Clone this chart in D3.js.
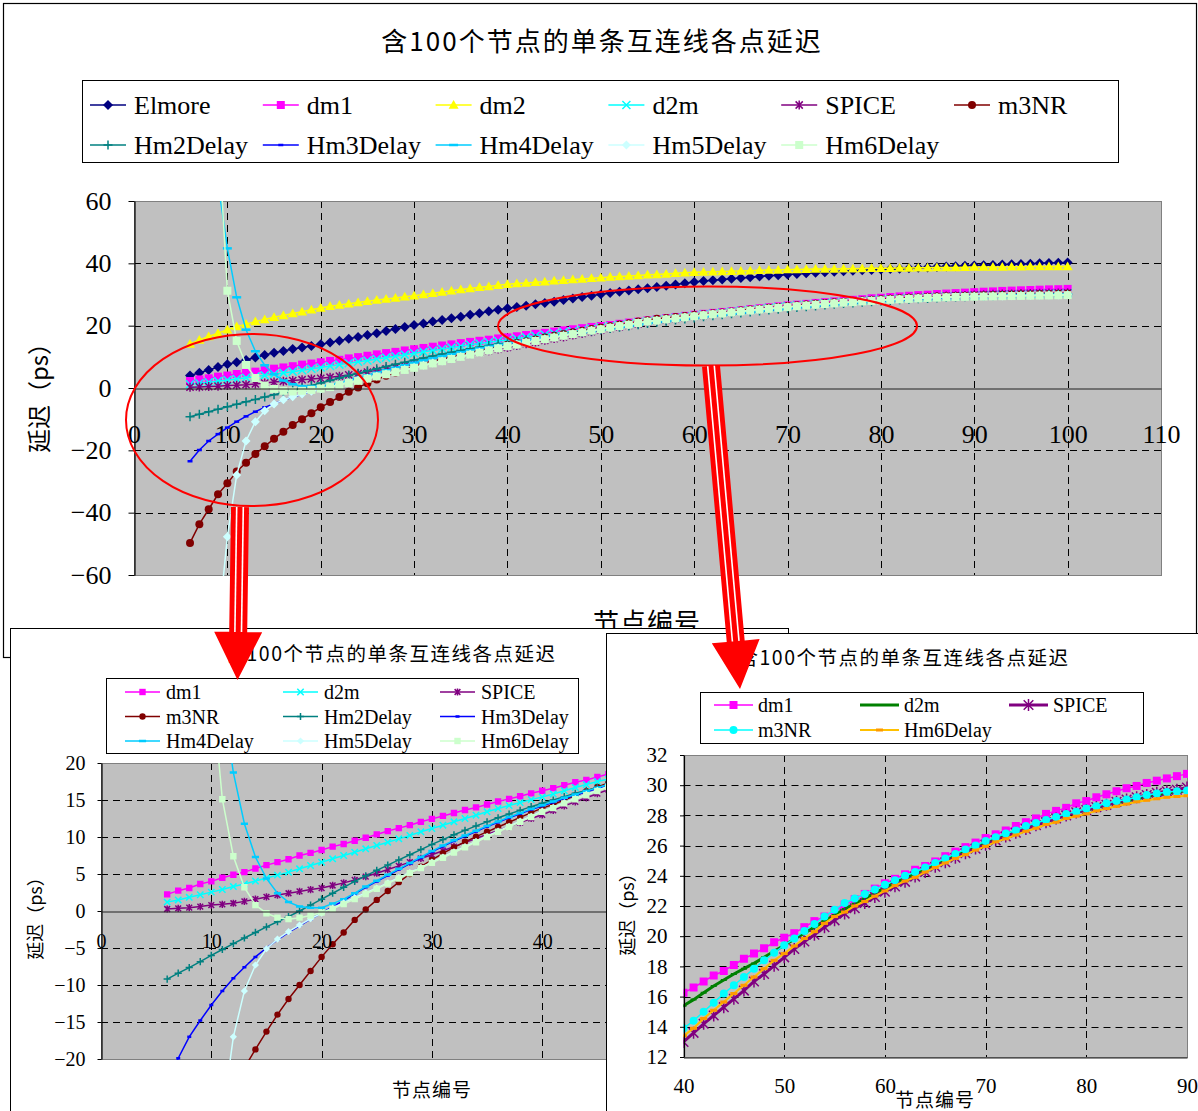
<!DOCTYPE html>
<html>
<head>
<meta charset="utf-8">
<script src="https://cdn.jsdelivr.net/npm/d3@7"></script>
<style>body{margin:0;background:#fff}</style>
</head>
<body>
<script>
// node numbers 6..100, one value per node for every series (ps)
var nodes = d3.range(6, 101);

var elmore = [
  4.0, 4.9, 5.8, 6.7, 7.6, 8.3, 9.0, 9.8, 10.6, 11.3,
  11.9, 12.5, 13.0, 13.5, 14.0, 14.6, 15.2, 15.8, 16.4, 17.0,
  17.6, 18.3, 18.9, 19.6, 20.2, 20.7, 21.3, 21.8, 22.4, 22.9,
  23.5, 24.0, 24.6, 25.1, 25.6, 26.0, 26.4, 26.9, 27.3, 27.7,
  28.2, 28.7, 29.2, 29.6, 30.1, 30.5, 30.9, 31.3, 31.7, 32.0,
  32.4, 32.8, 33.2, 33.6, 34.0, 34.3, 34.55, 34.8, 35.05, 35.3,
  35.55, 35.8, 36.0, 36.2, 36.4, 36.6, 36.8, 36.95, 37.1, 37.3,
  37.45, 37.6, 37.75, 37.9, 38.0, 38.15, 38.3, 38.45, 38.6, 38.7,
  38.8, 38.95, 39.05, 39.2, 39.3, 39.4, 39.5, 39.6, 39.7, 39.8,
  39.9, 40.0, 40.1, 40.2, 40.3
];
var dm1 = [
  2.25, 2.75, 3.1, 3.65, 4.0, 4.5, 4.9, 5.25, 5.75, 6.2,
  6.6, 7.0, 7.5, 7.85, 8.25, 8.7, 9.05, 9.5, 9.9, 10.35,
  10.8, 11.2, 11.6, 12.05, 12.45, 12.85, 13.25, 13.65, 14.0, 14.4,
  14.8, 15.15, 15.5, 15.9, 16.25, 16.6, 17.0, 17.4, 17.7, 18.1,
  18.5, 18.85, 19.2, 19.6, 19.9, 20.2, 20.6, 21.0, 21.3, 21.7,
  22.1, 22.45, 22.8, 23.15, 23.5, 23.8, 24.1, 24.4, 24.65, 24.95,
  25.3, 25.6, 25.9, 26.2, 26.5, 26.75, 27.0, 27.3, 27.55, 27.8,
  28.1, 28.3, 28.5, 28.8, 28.95, 29.2, 29.4, 29.6, 29.8, 29.95,
  30.15, 30.3, 30.45, 30.6, 30.75, 30.9, 31.0, 31.15, 31.25, 31.35,
  31.45, 31.55, 31.65, 31.7, 31.8
];
var dm2 = [
  14.1, 15.4, 16.5, 17.6, 18.7, 19.7, 20.5, 21.3, 22.0, 22.7,
  23.3, 23.9, 24.5, 25.1, 25.7, 26.2, 26.6, 27.0, 27.4, 27.8,
  28.2, 28.55, 28.9, 29.25, 29.6, 30.0, 30.4, 30.8, 31.2, 31.6,
  31.9, 32.3, 32.6, 33.0, 33.3, 33.5, 33.7, 33.9, 34.1, 34.4,
  34.6, 34.8, 35.0, 35.2, 35.4, 35.6, 35.8, 35.95, 36.1, 36.3,
  36.45, 36.6, 36.8, 36.95, 37.1, 37.2, 37.3, 37.4, 37.5, 37.55,
  37.65, 37.75, 37.85, 37.9, 38.0, 38.05, 38.1, 38.15, 38.2, 38.2,
  38.25, 38.3, 38.35, 38.4, 38.4, 38.45, 38.5, 38.5, 38.55, 38.6,
  38.65, 38.7, 38.7, 38.75, 38.8, 38.8, 38.85, 38.85, 38.9, 38.9,
  38.95, 38.95, 39.0, 39.0, 39.0
];
var d2m = [
  1.2, 1.5, 1.85, 2.2, 2.55, 2.9, 3.3, 3.65, 4.05, 4.45,
  4.85, 5.25, 5.7, 6.15, 6.6, 7.05, 7.5, 7.95, 8.4, 8.85,
  9.3, 9.75, 10.2, 10.7, 11.15, 11.6, 12.05, 12.5, 12.95, 13.4,
  13.85, 14.25, 14.65, 15.05, 15.4, 15.8, 16.25, 16.7, 17.1, 17.5,
  17.85, 18.2, 18.6, 19.0, 19.4, 19.8, 20.2, 20.6, 21.0, 21.4,
  21.8, 22.15, 22.5, 22.85, 23.2, 23.55, 23.85, 24.15, 24.45, 24.75,
  25.05, 25.35, 25.65, 25.95, 26.2, 26.45, 26.7, 26.95, 27.2, 27.4,
  27.6, 27.8, 28.0, 28.2, 28.35, 28.5, 28.7, 28.85, 28.95, 29.1,
  29.25, 29.35, 29.45, 29.55, 29.65, 29.75, 29.85, 29.95, 30.0, 30.1,
  30.15, 30.2, 30.3, 30.35, 30.4
];
var spice = [
  0.27, 0.36, 0.45, 0.6, 0.8, 0.9, 1.05, 1.3, 1.6, 1.9,
  2.15, 2.4, 2.65, 2.9, 3.1, 3.45, 3.8, 4.2, 4.65, 5.1,
  5.6, 6.1, 6.6, 7.1, 7.6, 8.15, 8.7, 9.25, 9.8, 10.35,
  10.9, 11.4, 11.95, 12.5, 13.0, 13.6, 14.2, 14.75, 15.3, 15.85,
  16.4, 17.0, 17.5, 18.05, 18.6, 19.15, 19.65, 20.1, 20.6, 21.05,
  21.5, 21.85, 22.2, 22.6, 22.95, 23.3, 23.6, 23.95, 24.25, 24.6,
  24.9, 25.2, 25.5, 25.8, 26.05, 26.35, 26.6, 26.85, 27.1, 27.35,
  27.55, 27.8, 28.0, 28.2, 28.35, 28.55, 28.7, 28.9, 29.05, 29.2,
  29.35, 29.5, 29.6, 29.7, 29.85, 29.95, 30.05, 30.15, 30.2, 30.3,
  30.35, 30.4, 30.45, 30.5, 30.55
];
var m3nr = [
  -49.7, -43.7, -38.9, -34.1, -30.6, -26.8, -24.0, -21.2, -18.7, -16.3,
  -14.0, -11.9, -10.0, -8.1, -6.2, -4.5, -2.9, -1.2, 0.2, 1.5,
  2.7, 3.9, 5.0, 6.0, 6.9, 7.8, 8.6, 9.35, 10.05, 10.7,
  11.35, 12.0, 12.65, 13.3, 13.9, 14.4, 15.0, 15.6, 16.2, 16.75,
  17.3, 17.85, 18.4, 18.9, 19.4, 19.85, 20.35, 20.8, 21.3, 21.75,
  22.2, 22.5, 22.8, 23.1, 23.4, 23.7, 24.0, 24.25, 24.55, 24.85,
  25.15, 25.45, 25.75, 26.0, 26.3, 26.55, 26.8, 27.0, 27.3, 27.5,
  27.7, 27.9, 28.1, 28.25, 28.45, 28.6, 28.8, 28.95, 29.05, 29.2,
  29.35, 29.45, 29.55, 29.6, 29.65, 29.75, 29.85, 29.9, 30.0, 30.05,
  30.1, 30.15, 30.2, 30.25, 30.3
];
var hm2 = [
  -9.2, -8.4, -7.65, -6.85, -6.0, -5.2, -4.4, -3.65, -2.9, -2.15,
  -1.45, -0.75, 0.0, 0.8, 1.6, 2.4, 3.2, 4.0, 4.75, 5.5,
  6.2, 6.9, 7.6, 8.3, 9.0, 9.65, 10.3, 10.9, 11.5, 12.05,
  12.6, 13.1, 13.6, 14.1, 14.55, 15.0, 15.45, 15.9, 16.3, 16.7,
  17.1, 17.5, 17.9, 18.3, 18.7, 19.1, 19.5, 19.9, 20.3, 20.7,
  21.1, 21.45, 21.8, 22.15, 22.5, 22.85, 23.2, 23.5, 23.8, 24.1,
  24.4, 24.7, 25.0, 25.3, 25.6, 25.85, 26.1, 26.35, 26.6, 26.85,
  27.1, 27.3, 27.5, 27.7, 27.9, 28.1, 28.3, 28.45, 28.6, 28.75,
  28.9, 29.05, 29.2, 29.3, 29.4, 29.5, 29.6, 29.7, 29.8, 29.85,
  29.9, 29.95, 30.0, 30.05, 30.1
];
var hm3 = [
  -23.5, -19.9, -17.0, -14.8, -12.7, -10.8, -9.1, -7.6, -6.2, -5.0,
  -3.9, -2.9, -2.0, -1.1, -0.3, 0.6, 1.4, 2.3, 3.2, 4.0,
  4.8, 5.6, 6.4, 7.2, 8.0, 8.75, 9.45, 10.1, 10.75, 11.4,
  12.0, 12.6, 13.15, 13.7, 14.2, 14.7, 15.2, 15.65, 16.1, 16.55,
  17.0, 17.4, 17.8, 18.2, 18.6, 19.0, 19.4, 19.8, 20.2, 20.6,
  21.0, 21.35, 21.7, 22.05, 22.4, 22.75, 23.1, 23.4, 23.7, 24.0,
  24.3, 24.6, 24.9, 25.2, 25.5, 25.75, 26.0, 26.25, 26.5, 26.75,
  27.0, 27.2, 27.4, 27.6, 27.8, 28.0, 28.2, 28.35, 28.5, 28.65,
  28.8, 28.95, 29.1, 29.2, 29.3, 29.4, 29.5, 29.6, 29.7, 29.75,
  29.8, 29.85, 29.9, 29.95, 30.0
];
var hm4 = [
  400, 205, 112, 66, 44.8, 29.1, 18.7, 11.8, 7.3, 4.4,
  2.4, 1.2, 0.6, 0.45, 0.45, 1.0, 1.6, 2.4, 3.3, 4.1,
  4.9, 5.7, 6.5, 7.3, 8.1, 8.85, 9.55, 10.2, 10.85, 11.5,
  12.1, 12.7, 13.25, 13.8, 14.3, 14.8, 15.3, 15.75, 16.2, 16.65,
  17.1, 17.5, 17.9, 18.3, 18.7, 19.1, 19.5, 19.9, 20.3, 20.7,
  21.1, 21.45, 21.8, 22.15, 22.5, 22.85, 23.2, 23.5, 23.8, 24.1,
  24.4, 24.7, 25.0, 25.3, 25.6, 25.85, 26.1, 26.35, 26.6, 26.85,
  27.1, 27.3, 27.5, 27.7, 27.9, 28.1, 28.3, 28.45, 28.6, 28.75,
  28.9, 29.05, 29.2, 29.3, 29.4, 29.5, 29.6, 29.7, 29.8, 29.85,
  29.9, 29.95, 30.0, 30.05, 30.1
];
var hm5 = [
  -450, -230, -130, -78, -47.7, -27.9, -17.0, -10.8, -7.3, -5.1,
  -3.8, -2.8, -1.9, -1.05, -0.3, 0.4, 1.1, 1.8, 2.45, 3.1,
  3.8, 4.5, 5.2, 5.9, 6.6, 7.3, 8.0, 8.7, 9.4, 10.1,
  10.8, 11.45, 12.15, 12.8, 13.5, 14.0, 14.65, 15.2, 15.75, 16.3,
  16.85, 17.4, 17.95, 18.5, 18.95, 19.45, 19.95, 20.4, 20.95, 21.4,
  21.7, 22.1, 22.4, 22.75, 23.1, 23.45, 23.75, 24.0, 24.35, 24.65,
  24.95, 25.25, 25.5, 25.8, 26.05, 26.35, 26.55, 26.8, 27.05, 27.25,
  27.5, 27.65, 27.9, 28.05, 28.2, 28.4, 28.55, 28.7, 28.85, 29.0,
  29.1, 29.2, 29.3, 29.35, 29.4, 29.45, 29.5, 29.55, 29.6, 29.65,
  29.7, 29.75, 29.8, 29.85, 29.9
];
var hm6 = [
  620, 330, 170, 84, 31.2, 15.1, 7.4, 3.2, 0.8, -0.3,
  -0.9, -1.1, -0.9, -0.6, -0.2, 0.3, 0.95, 1.6, 2.3, 3.0,
  3.7, 4.4, 5.1, 5.8, 6.5, 7.2, 7.9, 8.6, 9.3, 10.0,
  10.7, 11.35, 12.05, 12.7, 13.4, 13.9, 14.55, 15.1, 15.65, 16.2,
  16.75, 17.3, 17.85, 18.4, 18.85, 19.35, 19.85, 20.3, 20.85, 21.3,
  21.6, 22.0, 22.3, 22.65, 23.0, 23.35, 23.65, 23.9, 24.25, 24.55,
  24.85, 25.15, 25.4, 25.7, 25.95, 26.25, 26.45, 26.7, 26.95, 27.15,
  27.4, 27.55, 27.8, 27.95, 28.1, 28.3, 28.45, 28.6, 28.75, 28.9,
  29.0, 29.1, 29.2, 29.25, 29.3, 29.35, 29.4, 29.45, 29.5, 29.55,
  29.6, 29.65, 29.7, 29.75, 29.8
];

var title = "含100个节点的单条互连线各点延迟";
var yTitle = "延迟（ps）";
var xTitle = "节点编号";

var CJK = "'Noto Sans CJK SC', sans-serif";
var SERIF = "'Liberation Serif', 'DejaVu Serif', serif";

var svg = d3.select("body").append("svg").attr("width", 1198).attr("height", 1111);

// ---- series styles ----
var mainSeries = [
  {name: "Elmore", values: elmore, color: "#000080", mark: "diamond", size: 10},
  {name: "dm1", values: dm1, color: "#ff00ff", mark: "square", size: 8},
  {name: "dm2", values: dm2, color: "#ffff00", mark: "triangle", size: 10},
  {name: "d2m", values: d2m, color: "#00ffff", mark: "x", size: 8},
  {name: "SPICE", values: spice, color: "#800080", mark: "star", size: 9},
  {name: "m3NR", values: m3nr, color: "#800000", mark: "circle", size: 8},
  {name: "Hm2Delay", values: hm2, color: "#008080", mark: "plus", size: 9},
  {name: "Hm3Delay", values: hm3, color: "#0000ff", mark: "dash", size: 5, thick: 2.5},
  {name: "Hm4Delay", values: hm4, color: "#00ccff", mark: "dash", size: 9, thick: 2.5},
  {name: "Hm5Delay", values: hm5, color: "#ccffff", mark: "diamond", size: 9},
  {name: "Hm6Delay", values: hm6, color: "#ccffcc", mark: "square", size: 8}
];
var leftSeries = mainSeries.slice(1).filter(function(s) { return s.name != "dm2"; }).map(function(s) {
  var c = Object.assign({}, s);
  c.size = s.size * 0.8;
  return c;
});
var rightSeries = [
  {name: "dm1", values: dm1, color: "#ff00ff", mark: "square", size: 8},
  {name: "d2m", values: d2m, color: "#008000", mark: "dash", size: 6, thick: 2, lw: 3},
  {name: "SPICE", values: spice, color: "#800080", mark: "star", size: 12, lw: 3},
  {name: "m3NR", values: m3nr, color: "#00ffff", mark: "circle", size: 8},
  {name: "Hm6Delay", values: hm6, color: "#ffc000", mcolor: "#ff9900", mark: "dash", size: 7, thick: 3, lw: 2}
];

var markPath = function(st) {
  var h = st.size / 2, s = st.size;
  if (st.mark == "diamond") return "M0," + (-h) + "L" + h + ",0L0," + h + "L" + (-h) + ",0Z";
  if (st.mark == "square") return "M" + (-h) + "," + (-h) + "h" + s + "v" + s + "h" + (-s) + "Z";
  if (st.mark == "triangle") return "M0," + (-h) + "L" + h + "," + (h * 0.75) + "L" + (-h) + "," + (h * 0.75) + "Z";
  if (st.mark == "circle") return d3.symbol(d3.symbolCircle, Math.PI * h * h)();
  if (st.mark == "x") return "M" + (-h) + "," + (-h) + "L" + h + "," + h + "M" + (-h) + "," + h + "L" + h + "," + (-h);
  if (st.mark == "star") {
    var k = h * 0.8;
    return "M" + (-k) + "," + (-k) + "L" + k + "," + k + "M" + (-k) + "," + k + "L" + k + "," + (-k) + "M0," + (-h) + "V" + h;
  }
  if (st.mark == "plus") return "M" + (-h) + ",0H" + h + "M0," + (-h) + "V" + h;
  var t = st.thick / 2;
  return "M" + (-h) + "," + (-t) + "h" + s + "v" + st.thick + "h" + (-s) + "Z";
};
var isOpen = function(m) { return m == "x" || m == "star" || m == "plus"; };

var drawMarks = function(g, pts, st, fx, fy) {
  var c = st.mcolor || st.color;
  g.selectAll(null).data(pts).enter().append("path")
    .attr("transform", function(p) { return "translate(" + fx(p) + "," + fy(p) + ")"; })
    .attr("d", markPath(st))
    .attr("fill", isOpen(st.mark) ? "none" : c)
    .attr("stroke", isOpen(st.mark) ? c : "none")
    .attr("stroke-width", 1.5);
};

// ---- one plot area with grid, series and axes ----
var clipCount = 0;
var drawPlot = function(p) {
  var x = d3.scaleLinear().domain(p.xDomain).range([p.left, p.right]);
  var y = d3.scaleLinear().domain(p.yDomain).range([p.bottom, p.top]);
  var g = svg.append("g");

  g.append("rect").attr("x", p.left).attr("y", p.top)
    .attr("width", p.right - p.left).attr("height", p.bottom - p.top)
    .attr("fill", "#c0c0c0");

  g.selectAll(null).data(p.xTicks.slice(1, -1)).enter().append("line")
    .attr("x1", function(d) { return Math.round(x(d)) + 0.5; })
    .attr("x2", function(d) { return Math.round(x(d)) + 0.5; })
    .attr("y1", p.top).attr("y2", p.bottom)
    .attr("stroke", "#000").attr("stroke-dasharray", "7,5");
  g.selectAll(null).data(p.yTicks.slice(1, -1).filter(function(d) { return d != 0; })).enter().append("line")
    .attr("y1", function(d) { return Math.round(y(d)) + 0.5; })
    .attr("y2", function(d) { return Math.round(y(d)) + 0.5; })
    .attr("x1", p.left).attr("x2", p.right)
    .attr("stroke", "#000").attr("stroke-dasharray", "7,5");
  g.append("rect").attr("x", p.left + 0.5).attr("y", p.top + 0.5)
    .attr("width", p.right - p.left).attr("height", p.bottom - p.top)
    .attr("fill", "none").attr("stroke", "#808080");

  var cid = "clip" + (clipCount++);
  svg.append("clipPath").attr("id", cid).append("rect")
    .attr("x", p.left).attr("y", p.top)
    .attr("width", p.right - p.left + 1).attr("height", p.bottom - p.top + 1);
  var sg = g.append("g").attr("clip-path", "url(#" + cid + ")");

  var fx = function(d) { return x(d.n); };
  var fy = function(d) { return y(d.v); };
  var line = d3.line().x(fx).y(fy);
  p.series.forEach(function(s) {
    var pts = nodes.map(function(n, i) { return {n: n, v: s.values[i]}; });
    sg.append("path").datum(pts).attr("d", line)
      .attr("fill", "none").attr("stroke", s.color).attr("stroke-width", s.lw || 1.5);
    drawMarks(sg, pts, s, fx, fy);
  });

  var ya = g.append("g").attr("transform", "translate(" + (p.left + 0.5) + ",0)")
    .call(d3.axisLeft(y).tickValues(p.yTicks).tickSize(p.yTick).tickSizeOuter(0)
      .tickPadding(p.yPad).tickFormat(d3.format("d")));
  ya.select(".domain").attr("stroke", "#000").attr("stroke-width", 1.2);
  ya.selectAll("text").attr("font-family", SERIF).attr("font-size", p.fs).attr("fill", "#000");

  var xa = g.append("g").attr("transform", "translate(0," + (Math.round(y(p.xAt)) + 0.5) + ")")
    .call(d3.axisBottom(x).tickValues(p.xLabels || p.xTicks).tickSize(0).tickSizeOuter(0)
      .tickPadding(p.xPad).tickFormat(d3.format("d")));
  xa.select(".domain").attr("stroke", "#202020").attr("stroke-width", 1.2);
  xa.selectAll("text").attr("font-family", SERIF).attr("font-size", p.fs).attr("fill", "#000");
};

var drawLegend = function(box, items, fs) {
  svg.append("rect").attr("x", box[0] + 0.5).attr("y", box[1] + 0.5)
    .attr("width", box[2]).attr("height", box[3])
    .attr("fill", "#fff").attr("stroke", "#000");
  items.forEach(function(it) {
    var s = it.s;
    svg.append("line").attr("x1", it.x0).attr("x2", it.x1).attr("y1", it.y).attr("y2", it.y)
      .attr("stroke", s.color).attr("stroke-width", s.lw || 1.5);
    drawMarks(svg, [0], s, function() { return (it.x0 + it.x1) / 2; }, function() { return it.y; });
    svg.append("text").attr("x", it.tx).attr("y", it.y).attr("dy", "0.35em")
      .attr("font-family", SERIF).attr("font-size", fs).text(s.name);
  });
};

var addText = function(t, x, y, fs, ls, rot) {
  var el = svg.append("text").attr("font-family", CJK).attr("font-size", fs)
    .attr("text-anchor", "middle").attr("letter-spacing", ls).text(t);
  if (rot) el.attr("transform", "translate(" + x + "," + y + ") rotate(-90)").attr("dy", "0.35em");
  else el.attr("x", x).attr("y", y);
};

// ---- main chart ----
svg.append("rect").attr("x", 3.5).attr("y", 3.5).attr("width", 1193).attr("height", 654)
  .attr("fill", "#fff").attr("stroke", "#000").attr("stroke-width", 1.2);
addText(title, 602, 51, 26, 2);

drawPlot({
  left: 134, right: 1161, top: 201, bottom: 575,
  xDomain: [0, 110], yDomain: [-60, 60],
  xTicks: d3.range(0, 111, 10), yTicks: d3.range(-60, 61, 20),
  xAt: 0, series: mainSeries, fs: 26, yTick: 6, yPad: 17, xPad: 36
});

drawLegend([82, 80, 1036, 82], mainSeries.map(function(s, i) {
  var col = i < 6 ? i : i - 6, row = i < 6 ? 0 : 1;
  var x0 = 90 + 172.8 * col;
  return {s: s, x0: x0, x1: x0 + 36, tx: x0 + 44, y: 105 + 40 * row};
}), 26);

addText(yTitle, 40, 392, 24, 0, true);
addText(xTitle, 647, 632, 26, 1);

svg.append("ellipse").attr("cx", 252).attr("cy", 420).attr("rx", 126).attr("ry", 86)
  .attr("fill", "none").attr("stroke", "#ff0000").attr("stroke-width", 2);
svg.append("ellipse").attr("cx", 707.5).attr("cy", 326).attr("rx", 209.5).attr("ry", 39.5)
  .attr("fill", "none").attr("stroke", "#ff0000").attr("stroke-width", 2);

// ---- left zoom: nodes 0..50 ----
svg.append("rect").attr("x", 10.5).attr("y", 628.5).attr("width", 778).attr("height", 490)
  .attr("fill", "#fff").attr("stroke", "#000");
addText(title, 391, 661, 19.5, 1.5);
drawPlot({
  left: 101, right: 652.5, top: 763, bottom: 1059,
  xDomain: [0, 50], yDomain: [-20, 20],
  xTicks: d3.range(0, 51, 10), xLabels: d3.range(0, 41, 10), yTicks: d3.range(-20, 21, 5),
  xAt: 0, series: leftSeries, fs: 20, yTick: 4, yPad: 12, xPad: 22
});
drawLegend([106, 678, 472, 75], leftSeries.map(function(s, i) {
  var col = i % 3, row = Math.floor(i / 3);
  var x0 = [125, 283, 440][col];
  return {s: s, x0: x0, x1: x0 + 35, tx: x0 + 41, y: 692 + 24.5 * row};
}), 20);
addText(yTitle, 36, 914, 18, 0, true);
addText(xTitle, 432, 1097, 19, 1);

// ---- right zoom: nodes 40..90 ----
svg.append("rect").attr("x", 606.5).attr("y", 633.5).attr("width", 600).attr("height", 490)
  .attr("fill", "#fff").attr("stroke", "#000");
addText(title, 904, 665, 19.5, 1.5);
drawPlot({
  left: 683.5, right: 1187, top: 755, bottom: 1057,
  xDomain: [40, 90], yDomain: [12, 32],
  xTicks: d3.range(40, 91, 10), yTicks: d3.range(12, 33, 2),
  xAt: 12, series: rightSeries, fs: 21, yTick: 4, yPad: 12.5, xPad: 21
});
drawLegend([700, 692, 443, 51], rightSeries.map(function(s, i) {
  var col = i % 3, row = Math.floor(i / 3);
  var x0 = [714, 860, 1009][col];
  return {s: s, x0: x0, x1: x0 + 39, tx: x0 + 44, y: 705 + 25 * row};
}), 20);
addText(yTitle, 628, 910, 18, 0, true);
addText(xTitle, 935, 1107, 19, 1);

// ---- red arrows from the ellipses down to the zooms ----
var arrow = function(x1, y1, x2, y2) {
  var dx = x2 - x1, dy = y2 - y1, L = Math.hypot(dx, dy);
  var ux = dx / L, uy = dy / L, px = -uy, py = ux;
  var bx = x2 - ux * 48, by = y2 - uy * 48;
  var pts = [
    [x1 + px * 9, y1 + py * 9], [bx + px * 9, by + py * 9], [bx + px * 24, by + py * 24],
    [x2, y2],
    [bx - px * 24, by - py * 24], [bx - px * 9, by - py * 9], [x1 - px * 9, y1 - py * 9]
  ];
  svg.append("polygon").attr("points", pts.join(" ")).attr("fill", "#ff0000");
  [-3.3, 3.3].forEach(function(o) {
    svg.append("line").attr("x1", x1 + px * o).attr("y1", y1 + py * o)
      .attr("x2", bx + px * o).attr("y2", by + py * o)
      .attr("stroke", "#fff").attr("stroke-width", 1.6);
  });
};
arrow(240, 507, 237.5, 680);
arrow(711, 366, 740, 689);
</script>
</body>
</html>
